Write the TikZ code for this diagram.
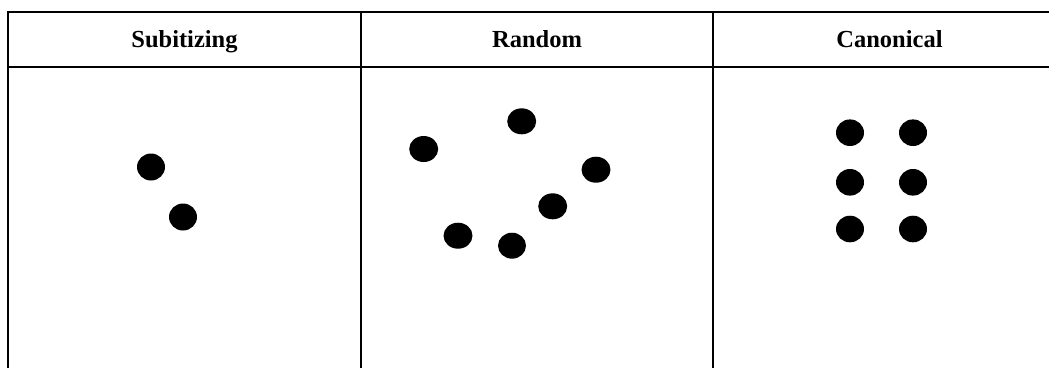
\documentclass[tikz,border=0pt]{standalone}
\usepackage{fontspec}
\setmainfont{Liberation Serif}
\begin{document}
\begin{tikzpicture}[x=1pt,y=-1pt,
  rule/.style={line width=2pt,black},
  head/.style={font=\fontsize{24.5}{28}\selectfont\bfseries,anchor=base,inner sep=0pt},
  dot/.style={fill=black}]
\useasboundingbox (0,0) rectangle (1049,368);
% table lines
\draw[rule] (1049,11.5) -- (8,11.5) -- (8,368);
\draw[rule] (8,67) -- (1049,67);
\draw[rule] (361,11.5) -- (361,368);
\draw[rule] (713,11.5) -- (713,368);
% headers
\node[head] (h1) at (184.5,47.5) {Subitizing};
\node[head] (h2) at (537,47.5) {Random};
\node[head] (h3) at (889.5,47.5) {Canonical};
% subitizing dots
\fill[dot] (151,167) ellipse [x radius=14, y radius=13.5];
\fill[dot] (183,217) ellipse [x radius=14, y radius=13.5];
% random dots
\fill[dot] (423.7,149) ellipse [x radius=14.5, y radius=13];
\fill[dot] (521.7,121.3) ellipse [x radius=14.5, y radius=13];
\fill[dot] (596,169.7) ellipse [x radius=14.5, y radius=13];
\fill[dot] (552.7,206.3) ellipse [x radius=14.5, y radius=13];
\fill[dot] (458,235.7) ellipse [x radius=14.5, y radius=13];
\fill[dot] (512,245.7) ellipse [x radius=14, y radius=13];
% canonical dots
\foreach \yy in {132.7,182.3,229}{
  \fill[dot] (850,\yy) ellipse [x radius=14, y radius=13.3];
  \fill[dot] (913,\yy) ellipse [x radius=14, y radius=13.3];
}
\end{tikzpicture}
\end{document}
